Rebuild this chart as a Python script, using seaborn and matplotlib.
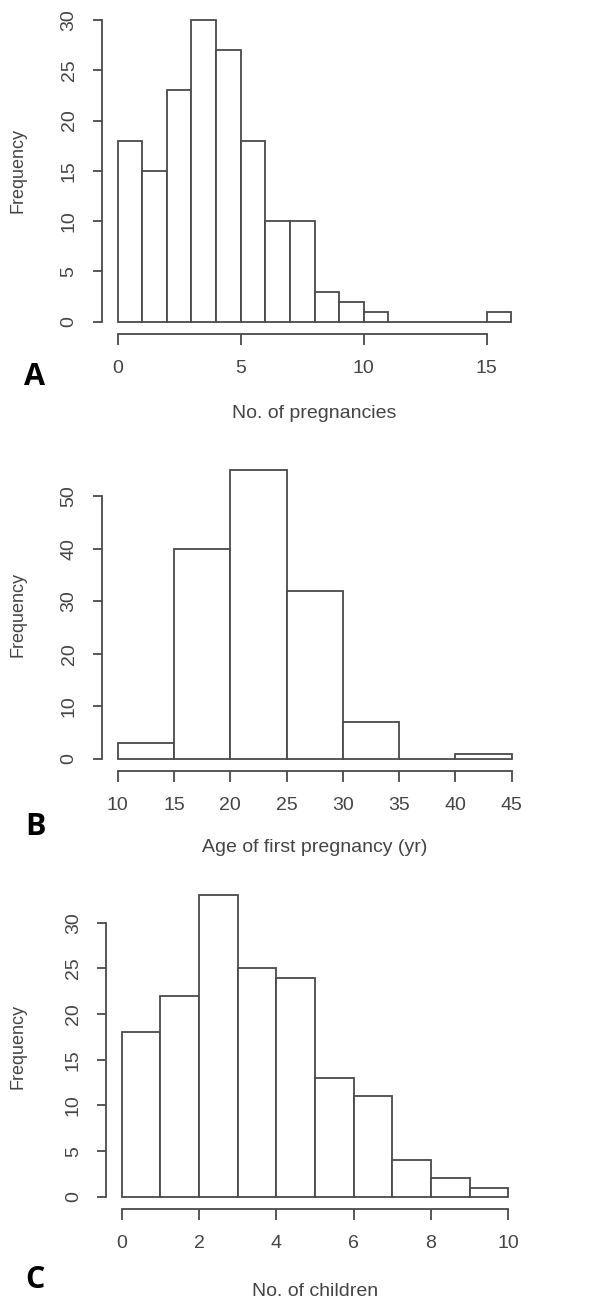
import numpy as np
import pandas as pd
import matplotlib
matplotlib.use("Agg")
import matplotlib.pyplot as plt
import seaborn as sns

# ---- data ----
preg_edges = list(range(0, 17))
preg_counts = [18, 15, 23, 30, 27, 18, 10, 10, 3, 2, 1, 0, 0, 0, 0, 1]

age_edges = [10, 15, 20, 25, 30, 35, 40, 45]
age_counts = [3, 40, 55, 32, 7, 0, 1]

child_edges = list(range(0, 11))
child_counts = [18, 22, 33, 25, 24, 13, 11, 4, 2, 1]

preg_xticks = [0, 5, 10, 15]
preg_yticks = [0, 5, 10, 15, 20, 25, 30]
age_xticks = [10, 15, 20, 25, 30, 35, 40, 45]
age_yticks = [0, 10, 20, 30, 40, 50]
child_xticks = [0, 2, 4, 6, 8, 10]
child_yticks = [0, 5, 10, 15, 20, 25, 30]

sns.set_style("white")
plt.rcParams['font.family'] = ['Liberation Sans', 'DejaVu Sans']

W, H = 590, 1303
fig = plt.figure(figsize=(W / 100, H / 100), dpi=100)

LINE = "#4a4a4a"
TXT = "#444444"


def make_panel(rect_px, edges, counts, xticks, yticks, xlabel, xlabel_y, letter, letter_y):
    l, t, r, b = rect_px
    ax = fig.add_axes([l / W, 1 - b / H, (r - l) / W, (b - t) / H])
    e = np.asarray(edges, dtype=float)
    centers = (e[:-1] + e[1:]) / 2
    df = pd.DataFrame({"x": centers, "w": np.asarray(counts, dtype=float)})
    sns.histplot(data=df, x="x", weights="w", bins=list(edges), ax=ax,
                 color="white", edgecolor=LINE, linewidth=1.3, alpha=1)
    xr = e[-1] - e[0]
    ymax = max(counts)
    ax.set_xlim(e[0] - 0.04 * xr, e[-1] + 0.04 * xr)
    ax.set_ylim(-0.04 * ymax, ymax * 1.04)
    for s in ["top", "right"]:
        ax.spines[s].set_visible(False)
    for s in ["left", "bottom"]:
        ax.spines[s].set_color(LINE)
        ax.spines[s].set_linewidth(1.3)
    ax.spines["bottom"].set_bounds(xticks[0], xticks[-1])
    ax.spines["left"].set_bounds(yticks[0], yticks[-1])
    ax.set_xticks(xticks)
    ax.set_yticks(yticks)
    ax.set_yticklabels([str(v) for v in yticks], rotation=90, va="center")
    ax.tick_params(axis="x", length=8, width=1.3, color=LINE, pad=11,
                   labelsize=14, labelcolor=TXT, bottom=True)
    ax.tick_params(axis="y", length=6.5, width=1.3, color=LINE, pad=11,
                   labelsize=14, labelcolor=TXT, left=True)
    ax.set_xlabel(xlabel, fontsize=14, color=TXT, va="center")
    ax.xaxis.set_label_coords(0.5, -((xlabel_y - b) / (b - t)))
    ax.set_ylabel("Frequency", fontsize=13, color=TXT, va="center")
    ax.yaxis.set_label_coords(-((l - 18) / (r - l)), 0.5)
    ax.grid(False)
    fig.text(35 / W, 1 - letter_y / H, letter, fontsize=22, fontweight="bold",
             color="black", ha="center", va="center", family=["Open Sans", "DejaVu Sans"])
    return ax


make_panel((101.9, 7.9, 527.2, 333.8), preg_edges, preg_counts, preg_xticks,
           preg_yticks, "No. of pregnancies", 413, "A", 377)
make_panel((101.9, 458.1, 527.5, 770.6), age_edges, age_counts, age_xticks,
           age_yticks, "Age of first pregnancy (yr)", 847, "B", 827)
make_panel((106.2, 883.3, 523.8, 1208.8), child_edges, child_counts, child_xticks,
           child_yticks, "No. of children", 1292, "C", 1280)

fig.savefig("out.png", dpi=100, facecolor="white")
